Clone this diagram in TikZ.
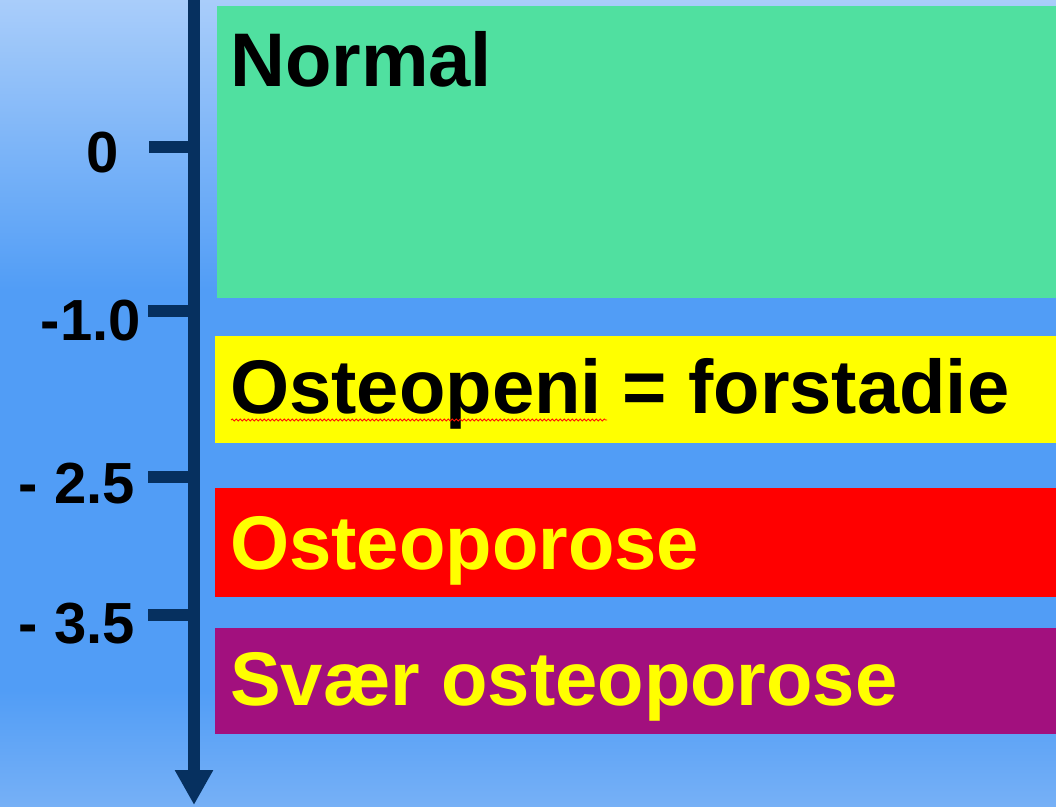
\documentclass[tikz,border=0pt]{standalone}
\usepackage{fontspec}
\setmainfont{Liberation Sans}
\usetikzlibrary{arrows.meta,decorations.pathmorphing}
\definecolor{bgtop}{HTML}{A9CDFA}
\definecolor{bgmid}{HTML}{519DF6}
\definecolor{bgbot}{HTML}{76B0F6}
\definecolor{axiscol}{HTML}{06305F}
\definecolor{normalgreen}{HTML}{50E0A0}
\definecolor{sevpurple}{HTML}{A2107E}
\definecolor{bandyellow}{HTML}{FFFF00}
\definecolor{bandred}{HTML}{FF0000}
\begin{document}
\begin{tikzpicture}[x=1pt,y=-1pt,
  band/.style={fill=#1, draw=none},
  boxtext/.style={anchor=base west, inner sep=0pt, font=\fontsize{76}{80}\selectfont\bfseries},
  numtext/.style={anchor=base east, inner sep=0pt, font=\fontsize{58}{62}\selectfont\bfseries},
  tickline/.style={draw=axiscol, line width=11.5pt},
  axisline/.style={draw=axiscol, line width=11.5pt, -{Triangle[width=36pt,length=35pt]}},
  spellline/.style={draw=red!85!orange, line width=0.8pt, decorate, decoration={snake,amplitude=1pt,segment length=4pt}}
]
\useasboundingbox (0,0) rectangle (1056,806);
% background
\shade[top color=bgtop,bottom color=bgmid] (0,0) rectangle (1056,290);
\fill[bgmid] (0,289) rectangle (1056,691);
\shade[top color=bgmid,bottom color=bgbot] (0,690) rectangle (1056,806);
% bands
\path[band=normalgreen] (217,6) rectangle (1056,298);
\path[band=bandyellow] (215,336) rectangle (1056,443);
\path[band=bandred] (215,488) rectangle (1056,597);
\path[band=sevpurple] (215,628) rectangle (1056,734);
% band texts
\node[boxtext] (normal) at (230,86) {Normal};
\node[boxtext] (penia) at (230,413) {Osteopeni = forstadie};
\node[boxtext,text=bandyellow] (poro) at (230,569) {Osteoporose};
\node[boxtext,text=bandyellow] (severe) at (230,705) {Svær osteoporose};
\coordinate (spellA) at (231,420);
\coordinate (spellB) at (607,420);
\path[spellline] (spellA) -- (spellB);
% axis
\coordinate (axtop) at (194,0);
\coordinate (axbot) at (194,805);
\draw[axisline] (axtop) -- (axbot);
% ticks
\coordinate (t0a) at (149,147);   \coordinate (t0b) at (194,147);
\coordinate (t1a) at (148,311);   \coordinate (t1b) at (194,311);
\coordinate (t2a) at (148,477);   \coordinate (t2b) at (194,477);
\coordinate (t3a) at (148,615);   \coordinate (t3b) at (194,615);
\draw[tickline] (t0a) -- (t0b);
\draw[tickline] (t1a) -- (t1b);
\draw[tickline] (t2a) -- (t2b);
\draw[tickline] (t3a) -- (t3b);
% tick labels
\node[numtext] (n0) at (119,172) {0};
\node[numtext] (n1) at (141,340) {-1.0};
\node[numtext] (n2) at (135,503) {- 2.5};
\node[numtext] (n3) at (135,643) {- 3.5};
\end{tikzpicture}
\end{document}
